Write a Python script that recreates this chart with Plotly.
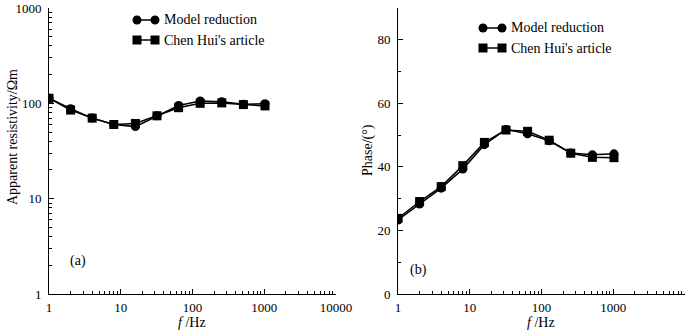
import plotly.graph_objects as go

freq = [1, 2, 4, 8, 16, 32, 64, 128, 256, 512, 1024]
rho_model = [113, 88, 70, 60, 57, 74, 95, 106, 104, 98, 99]
rho_chen = [113, 85, 70, 60, 61.5, 74, 90, 100, 101, 97, 94]
phase_model = [23.3, 28.3, 33.3, 39.3, 47.0, 51.8, 50.4, 48.2, 44.4, 43.8, 44.1]
phase_chen = [23.8, 29.1, 33.8, 40.4, 47.7, 51.6, 51.2, 48.4, 44.3, 43.0, 42.9]
x_ticks = [1, 10, 100, 1000, 10000]
x_ticklabels = ["1", "10", "100", "1000", "10000"]
rho_ticks = [1, 10, 100, 1000]
rho_ticklabels = ["1", "10", "100", "1000"]
phase_ticks = [0, 20, 40, 60, 80]
names = ["Model reduction", "Chen Hui's article"]

FONT = "Liberation Serif"
W, H = 700, 330

x_minor = [m * 10 ** d for d in range(4) for m in range(2, 10)]
y_minor = [m * 10 ** d for d in range(3) for m in range(2, 10)]

fig = go.Figure()
line = dict(color="black", width=1.5)
fig.add_trace(go.Scatter(x=freq, y=rho_model, mode="lines+markers", line=line,
                         marker=dict(symbol="circle", size=9, color="black"), xaxis="x", yaxis="y"))
fig.add_trace(go.Scatter(x=freq, y=rho_chen, mode="lines+markers", line=line,
                         marker=dict(symbol="square", size=9, color="black"), xaxis="x", yaxis="y"))
fig.add_trace(go.Scatter(x=freq, y=phase_model, mode="lines+markers", line=line,
                         marker=dict(symbol="circle", size=9, color="black"), xaxis="x2", yaxis="y2"))
fig.add_trace(go.Scatter(x=freq, y=phase_chen, mode="lines+markers", line=line,
                         marker=dict(symbol="square", size=9, color="black"), xaxis="x2", yaxis="y2"))

def px(xp):
    return xp / W

def py(yp):
    return 1 - yp / H

tickfont = dict(family=FONT, size=13, color="black")
titlefont = dict(family=FONT, size=14, color="black")
common = dict(showline=True, linecolor="black", linewidth=1, ticks="inside", ticklen=5,
              tickcolor="black", showgrid=False, zeroline=False, automargin=False, tickfont=tickfont)
minor_common = dict(ticks="inside", ticklen=3, tickcolor="black", showgrid=False)

xaxis_common = dict(type="log", range=[0, 4], tickvals=x_ticks, ticktext=x_ticklabels,
                    ticklabelstandoff=1,
                    minor=dict(tickvals=x_minor, **minor_common), **common)

fig.update_layout(
    width=W, height=H, margin=dict(l=0, r=0, t=0, b=0),
    plot_bgcolor="white", paper_bgcolor="white", showlegend=False,
    xaxis=dict(domain=[px(49), px(336)], anchor="y", **xaxis_common),
    xaxis2=dict(domain=[px(398), px(685)], anchor="y2", **xaxis_common),
    yaxis=dict(domain=[py(294), py(8)], anchor="x", type="log", range=[0, 3],
               tickvals=rho_ticks, ticktext=rho_ticklabels, ticklabelstandoff=4,
               minor=dict(tickvals=y_minor, **minor_common), **common),
    yaxis2=dict(domain=[py(294), py(8)], anchor="x2", range=[0, 90],
                tickvals=phase_ticks, ticklabelstandoff=4,
                minor=dict(tickvals=[10, 30, 50, 70, 90], **minor_common), **common),
)

# axis titles
for xc in (192, 541):
    fig.add_annotation(text="<i>f</i> /Hz", x=px(xc), y=py(322), xref="paper", yref="paper",
                       showarrow=False, xanchor="center", yanchor="middle", font=titlefont)
fig.add_annotation(text="Apparent resistivity/Ωm", x=px(12), y=py(137), xref="paper", yref="paper",
                   showarrow=False, textangle=-90, xanchor="center", yanchor="middle", font=titlefont)
fig.add_annotation(text="Phase/(°)", x=px(368), y=py(150), xref="paper", yref="paper",
                   showarrow=False, textangle=-90, xanchor="center", yanchor="middle", font=titlefont)

# panel labels
fig.add_annotation(text="(a)", x=px(68), y=py(271), xref="paper", yref="paper", showarrow=False,
                   font=titlefont)
fig.add_annotation(text="(b)", x=px(418), y=py(280), xref="paper", yref="paper", showarrow=False,
                   font=titlefont)

# custom legends (marker-line-marker)
def legend(x1, x2, ytop, gap):
    for i, (name, sym) in enumerate(zip(names, ["circle", "square"])):
        yy = ytop + i * gap
        fig.add_shape(type="line", xref="paper", yref="paper", x0=px(x1), x1=px(x2), y0=py(yy), y1=py(yy),
                      line=dict(color="black", width=1.5))
        for xx in (x1, x2):
            fig.add_shape(type=sym if sym == "circle" else "rect", xref="paper", yref="paper",
                          xsizemode="pixel", ysizemode="pixel", xanchor=px(xx), yanchor=py(yy),
                          x0=-4.5, x1=4.5, y0=-4.5, y1=4.5, fillcolor="black", line=dict(color="black", width=0))
        fig.add_annotation(text=name, x=px(x2 + 7), y=py(yy), xref="paper", yref="paper", showarrow=False,
                           xanchor="left", yanchor="middle", font=titlefont)

legend(137, 155, 20, 20)
legend(483, 502, 28, 20)

fig.write_html("out.html", config={"displayModeBar": False},
               post_script="document.body.style.margin='0';document.body.style.overflow='hidden';")
